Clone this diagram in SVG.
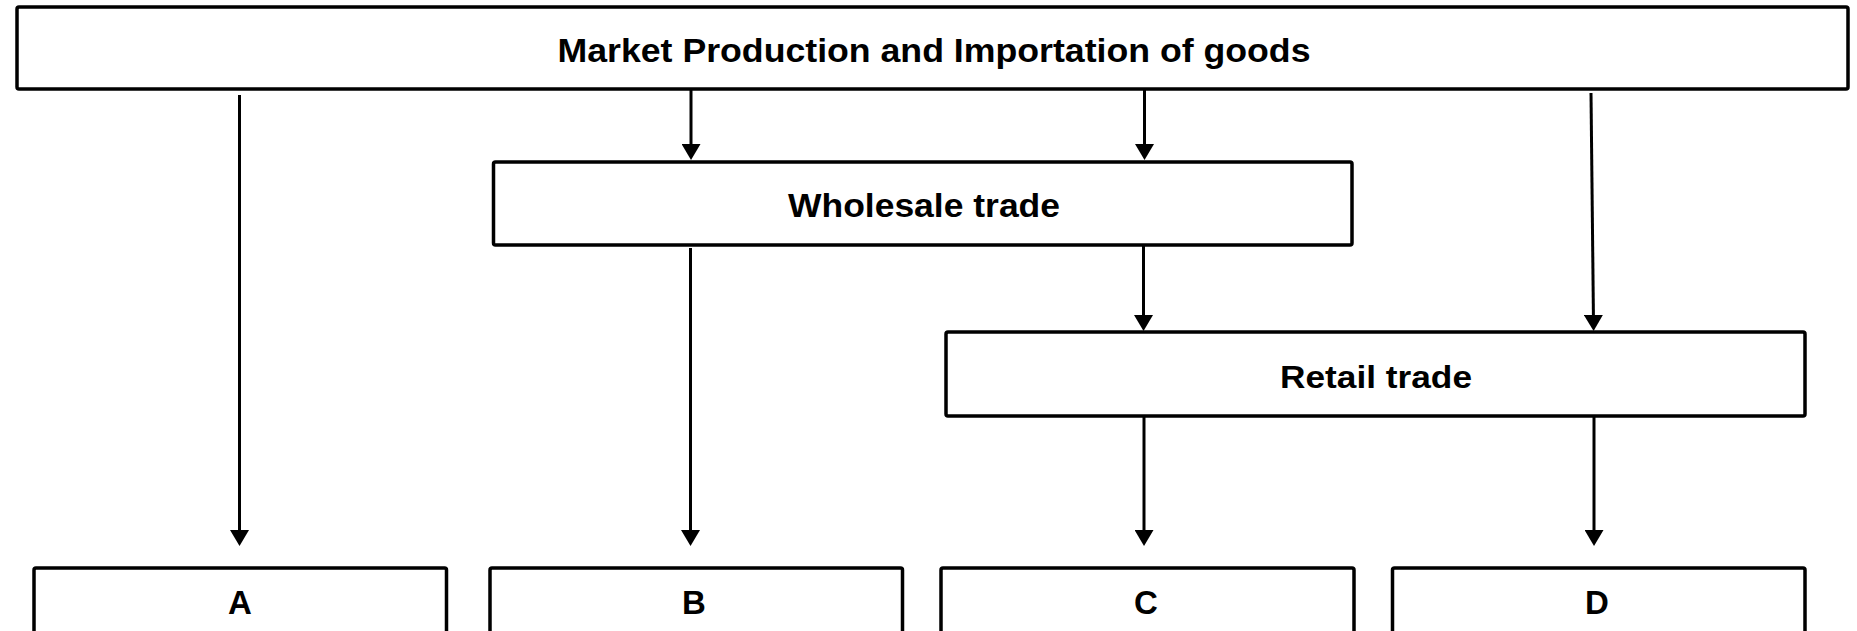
<svg xmlns="http://www.w3.org/2000/svg" width="1857" height="631" viewBox="0 0 1857 631">
<style>
.box{fill:#ffffff;stroke:#000000;stroke-width:3.5}
.lbl{font-family:"Liberation Sans",Arial,sans-serif;font-weight:bold;fill:#000000;text-anchor:middle}
.con{stroke:#000000;stroke-width:3;fill:none}
</style>
<defs>
<marker id="arr" viewBox="0 0 16 19" markerUnits="userSpaceOnUse" markerWidth="16" markerHeight="19" refX="8" refY="9.5" orient="auto">
<path d="M0,0 L16,9.5 L0,19 z" fill="#000000"/>
</marker>
</defs>
<rect width="1857" height="631" fill="#ffffff"/>
<g id="connectors">
<line class="con" x1="239.5" y1="95" x2="239.5" y2="538" marker-end="url(#arr)"/>
<line class="con" x1="691" y1="89" x2="691" y2="152" marker-end="url(#arr)"/>
<line class="con" x1="1144.5" y1="89" x2="1144.5" y2="152" marker-end="url(#arr)"/>
<line class="con" x1="1591" y1="93" x2="1593.5" y2="323" marker-end="url(#arr)"/>
<line class="con" x1="690.5" y1="248" x2="690.5" y2="538" marker-end="url(#arr)"/>
<line class="con" x1="1143.5" y1="245" x2="1143.5" y2="323" marker-end="url(#arr)"/>
<line class="con" x1="1144" y1="416" x2="1144" y2="538" marker-end="url(#arr)"/>
<line class="con" x1="1594" y1="416" x2="1594" y2="538" marker-end="url(#arr)"/>
</g>
<g id="node-market">
<rect class="box" x="17" y="7" width="1831" height="82" rx="2"/>
<text class="lbl" x="934" y="62" font-size="33" textLength="753" lengthAdjust="spacingAndGlyphs">Market Production and Importation of goods</text>
</g>
<g id="node-wholesale">
<rect class="box" x="493.5" y="162" width="858.5" height="83" rx="2"/>
<text class="lbl" x="924" y="217" font-size="33" textLength="272" lengthAdjust="spacingAndGlyphs">Wholesale trade</text>
</g>
<g id="node-retail">
<rect class="box" x="946" y="332" width="859" height="84" rx="2"/>
<text class="lbl" x="1376" y="388" font-size="32" textLength="192" lengthAdjust="spacingAndGlyphs">Retail trade</text>
</g>
<g id="node-a">
<rect class="box" x="34" y="568" width="412.5" height="80" rx="2"/>
<text class="lbl" x="240" y="614" font-size="33">A</text>
</g>
<g id="node-b">
<rect class="box" x="490" y="568" width="412.5" height="80" rx="2"/>
<text class="lbl" x="694" y="614" font-size="33">B</text>
</g>
<g id="node-c">
<rect class="box" x="941" y="568" width="413" height="80" rx="2"/>
<text class="lbl" x="1146" y="614" font-size="33">C</text>
</g>
<g id="node-d">
<rect class="box" x="1392.5" y="568" width="412.5" height="80" rx="2"/>
<text class="lbl" x="1597" y="614" font-size="33">D</text>
</g>
</svg>
